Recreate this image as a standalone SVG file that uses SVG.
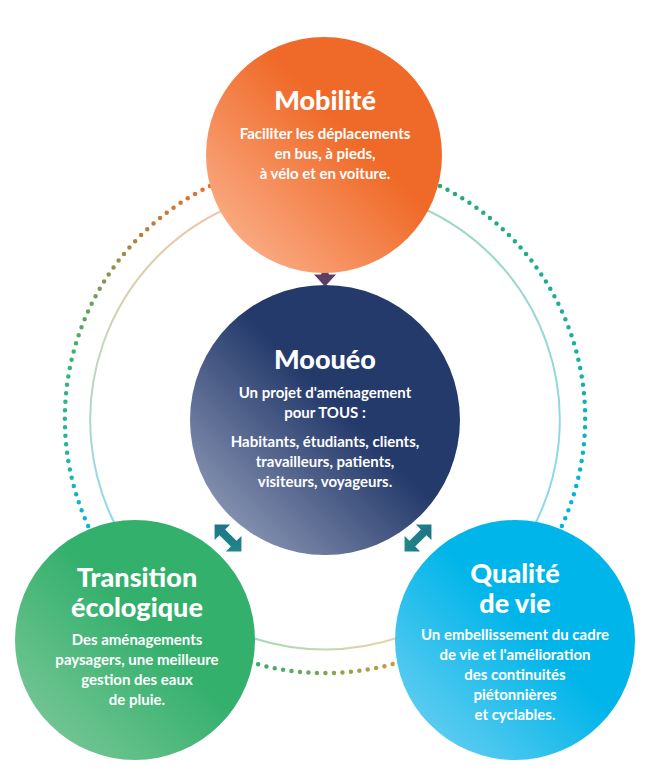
<svg xmlns="http://www.w3.org/2000/svg" width="662" height="773" viewBox="0 0 662 773">
<defs>
<style>
.t{font-family:Lato,"Open Sans",sans-serif;font-weight:900;fill:#fff;text-anchor:middle;font-size:27px}
.b{font-family:Lato,"Open Sans",sans-serif;font-weight:700;fill:#fff;text-anchor:middle;font-size:15px}
.thin{fill:none;stroke-width:2}
.dot{fill:none;stroke-width:4.5;stroke-linecap:round;stroke-dasharray:0 8.5}
</style>
<linearGradient id="gO" x1="0" y1="1" x2="1" y2="0"><stop offset="0.1" stop-color="#fbae88"/><stop offset="0.6" stop-color="#ef6a28"/></linearGradient>
<linearGradient id="gN" x1="0" y1="1" x2="1" y2="0"><stop offset="0.05" stop-color="#98a2bd"/><stop offset="0.55" stop-color="#243a6b"/></linearGradient>
<linearGradient id="gG" x1="0" y1="1" x2="1" y2="0"><stop offset="0.05" stop-color="#7fc99a"/><stop offset="0.55" stop-color="#34b06d"/></linearGradient>
<linearGradient id="gB" x1="0" y1="1" x2="1" y2="0"><stop offset="0.05" stop-color="#6fd0f2"/><stop offset="0.55" stop-color="#00b5e9"/></linearGradient>
<linearGradient id="gL" gradientUnits="userSpaceOnUse" x1="0" y1="180" x2="0" y2="560"><stop offset="0" stop-color="#ef6a28"/><stop offset="0.45" stop-color="#3db36a"/><stop offset="1" stop-color="#00b5e9"/></linearGradient>
<linearGradient id="gLt" gradientUnits="userSpaceOnUse" x1="0" y1="200" x2="0" y2="530"><stop offset="0" stop-color="#f7c3a4"/><stop offset="0.4" stop-color="#c9d7b2"/><stop offset="1" stop-color="#8ad8f0"/></linearGradient>
<linearGradient id="gBm" gradientUnits="userSpaceOnUse" x1="250" y1="0" x2="400" y2="0"><stop offset="0" stop-color="#2fb06f"/><stop offset="1" stop-color="#cf9a3e"/></linearGradient>
<linearGradient id="gBt" gradientUnits="userSpaceOnUse" x1="250" y1="0" x2="400" y2="0"><stop offset="0" stop-color="#9fdbb9"/><stop offset="1" stop-color="#ecd3a6"/></linearGradient>
<linearGradient id="gR" gradientUnits="userSpaceOnUse" x1="0" y1="180" x2="0" y2="560"><stop offset="0" stop-color="#2aa878"/><stop offset="0.5" stop-color="#10b2a8"/><stop offset="1" stop-color="#00b5e9"/></linearGradient>
<linearGradient id="gRt" gradientUnits="userSpaceOnUse" x1="0" y1="200" x2="0" y2="530"><stop offset="0" stop-color="#9fd8c4"/><stop offset="1" stop-color="#8cd8ec"/></linearGradient>
<linearGradient id="gA" x1="0" y1="0" x2="0" y2="1"><stop offset="0.3" stop-color="#d9876f"/><stop offset="0.7" stop-color="#5b3e63"/></linearGradient>
<linearGradient id="gD" x1="0" y1="1" x2="1" y2="0"><stop offset="0" stop-color="#1f8f8a"/><stop offset="1" stop-color="#1f6d86"/></linearGradient>
</defs>
<g id="connectors">
<path class="thin" stroke="url(#gLt)" d="M230,207 A232,232 0 0 0 118,530"/>
<path class="thin" stroke="url(#gBt)" d="M250,637 A232,232 0 0 0 400,637"/>
<path class="thin" stroke="url(#gRt)" d="M420,207 A232,232 0 0 1 532,530"/>
<path class="dot" stroke="url(#gL)" d="M210,186 A259,259 0 0 0 90,530"/>
<path class="dot" stroke="url(#gBm)" d="M250,662 A259,259 0 0 0 400,662"/>
<path class="dot" stroke="url(#gR)" d="M440,186 A259,259 0 0 1 560,530"/>
<path fill="url(#gA)" stroke="#fff" stroke-width="1" d="M325,246 L337,259 L329,259 L329,274 L337,274 L325,287 L313,274 L321,274 L321,259 L313,259 Z"/>
<g transform="translate(228,538) rotate(-45)"><path fill="url(#gD)" d="M0,-19 L11,-8 L4,-8 L4,8 L11,8 L0,19 L-11,8 L-4,8 L-4,-8 L-11,-8 Z"/></g>
<g transform="translate(418,538) rotate(45)"><path fill="url(#gD)" d="M0,-19 L11,-8 L4,-8 L4,8 L11,8 L0,19 L-11,8 L-4,8 L-4,-8 L-11,-8 Z"/></g>
</g>
<g id="mobilite">
<circle cx="324" cy="155" r="118" fill="url(#gO)"/>
<text class="t" x="325" y="110">Mobilité</text>
<text class="b" x="325" y="139">Faciliter les déplacements</text>
<text class="b" x="325" y="159">en bus, à pieds,</text>
<text class="b" x="325" y="179">à vélo et en voiture.</text>
</g>
<g id="moueo">
<circle cx="325" cy="420" r="135" fill="url(#gN)"/>
<text class="t" x="325" y="369">Moouéo</text>
<text class="b" x="325" y="398">Un projet d'aménagement</text>
<text class="b" x="325" y="418">pour TOUS :</text>
<text class="b" x="325" y="447">Habitants, étudiants, clients,</text>
<text class="b" x="325" y="467">travailleurs, patients,</text>
<text class="b" x="325" y="487">visiteurs, voyageurs.</text>
</g>
<g id="transition">
<circle cx="135" cy="640" r="120" fill="url(#gG)"/>
<text class="t" x="137" y="587">Transition</text>
<text class="t" x="137" y="617">écologique</text>
<text class="b" x="137" y="645">Des aménagements</text>
<text class="b" x="137" y="665">paysagers, une meilleure</text>
<text class="b" x="137" y="685">gestion des eaux</text>
<text class="b" x="137" y="705">de pluie.</text>
</g>
<g id="qualite">
<circle cx="515" cy="640" r="120" fill="url(#gB)"/>
<text class="t" x="515" y="583">Qualité</text>
<text class="t" x="515" y="613">de vie</text>
<text class="b" x="515" y="640">Un embellissement du cadre</text>
<text class="b" x="515" y="660">de vie et l'amélioration</text>
<text class="b" x="515" y="680">des continuités</text>
<text class="b" x="515" y="700">piétonnières</text>
<text class="b" x="515" y="720">et cyclables.</text>
</g>
</svg>
